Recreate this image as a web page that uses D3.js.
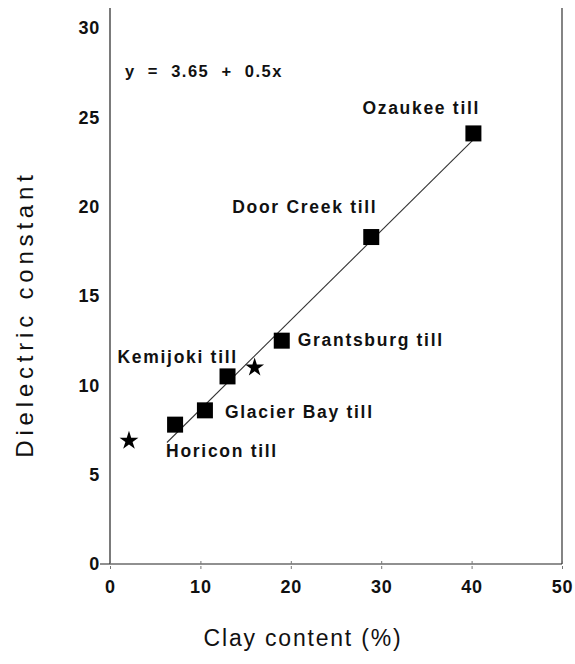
<!DOCTYPE html>
<html>
<head>
<meta charset="utf-8">
<script src="https://cdn.jsdelivr.net/npm/d3@7"></script>
<style>
  html, body { margin: 0; padding: 0; background: #fff; }
  svg { display: block; font-family: "Liberation Sans", Arial, sans-serif; }
</style>
</head>
<body>
<svg id="chart" width="575" height="664"></svg>
<script>
// Till samples: clay content (%) vs dielectric constant
const tillNames = ["Horicon till", "Glacier Bay till", "Kemijoki till", "Grantsburg till", "Door Creek till", "Ozaukee till"];
const tillClay = [7.2, 10.5, 13.0, 19.0, 28.9, 40.2];
const tillDielectric = [7.8, 8.6, 10.5, 12.5, 18.3, 24.1];

// Additional samples drawn as stars
const starClay = [2.1, 16.0];
const starDielectric = [6.9, 11.0];

// Regression line y = a + b x
const fitIntercept = 3.65;
const fitSlope = 0.5;
const fitRange = [6.3, 40.2];

const xTicks = [0, 10, 20, 30, 40, 50];
const yTicks = [0, 5, 10, 15, 20, 25, 30];

const svg = d3.select("#chart");
const x = d3.scaleLinear().domain([0, 50]).range([110, 562]);
const y = d3.scaleLinear().domain([0, 30]).range([564, 28]);

// Frame: left axis line and right border
svg.append("line").attr("x1", x(0)).attr("x2", x(0)).attr("y1", 8).attr("y2", y(0))
  .attr("stroke", "#222").attr("stroke-width", 1.2);
svg.append("line").attr("x1", x(50)).attr("x2", x(50)).attr("y1", 8).attr("y2", y(0))
  .attr("stroke", "#333").attr("stroke-width", 1.2);

// X axis
const xAxis = svg.append("g").attr("transform", `translate(0,${y(0)})`)
  .call(d3.axisBottom(x).tickValues(xTicks).tickFormat(d3.format("d")).tickSize(6).tickPadding(10));
xAxis.select(".domain").attr("stroke", "#222").attr("stroke-width", 1.2).attr("d", `M${x(0) - 10},0H${x(50)}`);
xAxis.selectAll(".tick line").attr("y1", -3).attr("y2", 7).attr("stroke", "#777")
  .attr("stroke-dasharray", "3,2");
xAxis.selectAll(".tick text").attr("font-size", 18).attr("font-weight", "bold").attr("letter-spacing", 0.8)
  .attr("fill", "#111").attr("font-family", "Liberation Sans, Arial, sans-serif");

// Y axis (labels only)
const yAxis = svg.append("g").attr("transform", `translate(${x(0)},0)`)
  .call(d3.axisLeft(y).tickValues(yTicks).tickFormat(d3.format("d")).tickSize(0).tickPadding(10));
yAxis.select(".domain").remove();
yAxis.selectAll(".tick text").attr("font-size", 18).attr("font-weight", "bold").attr("letter-spacing", 0.8)
  .attr("fill", "#111").attr("font-family", "Liberation Sans, Arial, sans-serif");

// Regression line
const fitLine = d3.line().x(d => x(d)).y(d => y(fitIntercept + fitSlope * d));
svg.append("path").attr("d", fitLine(fitRange))
  .attr("fill", "none").attr("stroke", "#333").attr("stroke-width", 1.1);

// Square markers
const sq = 16;
svg.append("g").selectAll("rect").data(d3.range(tillNames.length)).join("rect")
  .attr("x", i => x(tillClay[i]) - sq / 2)
  .attr("y", i => y(tillDielectric[i]) - sq / 2)
  .attr("width", sq).attr("height", sq).attr("fill", "#000");

// Star markers
const star = d3.symbol().type(d3.symbolStar).size(110);
svg.append("g").selectAll("path").data(d3.range(starClay.length)).join("path")
  .attr("transform", i => `translate(${x(starClay[i])},${y(starDielectric[i])})`)
  .attr("d", star).attr("fill", "#000");

// Point labels, placed relative to each marker
const labelOffsets = [
  [-9, 32], [20, 8], [-110, -13], [16, 5], [-139, -24], [-111, -19]
];
svg.append("g").selectAll("text").data(d3.range(tillNames.length)).join("text")
  .attr("x", i => x(tillClay[i]) + labelOffsets[i][0])
  .attr("y", i => y(tillDielectric[i]) + labelOffsets[i][1])
  .attr("font-size", 17.5).attr("font-weight", "bold").attr("letter-spacing", 1.7)
  .attr("fill", "#111")
  .text(i => tillNames[i]);

// Equation
svg.append("text").attr("x", 125).attr("y", 77)
  .style("white-space", "pre")
  .attr("font-size", 16.5).attr("font-weight", "bold").attr("letter-spacing", 1.5).attr("fill", "#111")
  .text(`y  =  ${fitIntercept}  +  ${fitSlope}x`);

// Axis titles
svg.append("text").attr("x", 303).attr("y", 646).attr("text-anchor", "middle")
  .attr("font-size", 23).attr("letter-spacing", 1.8).attr("fill", "#111")
  .text("Clay content (%)");
svg.append("text").attr("transform", "translate(33,314) rotate(-90)").attr("text-anchor", "middle")
  .attr("font-size", 24).attr("letter-spacing", 4.8).attr("fill", "#111")
  .text("Dielectric constant");
</script>
</body>
</html>
